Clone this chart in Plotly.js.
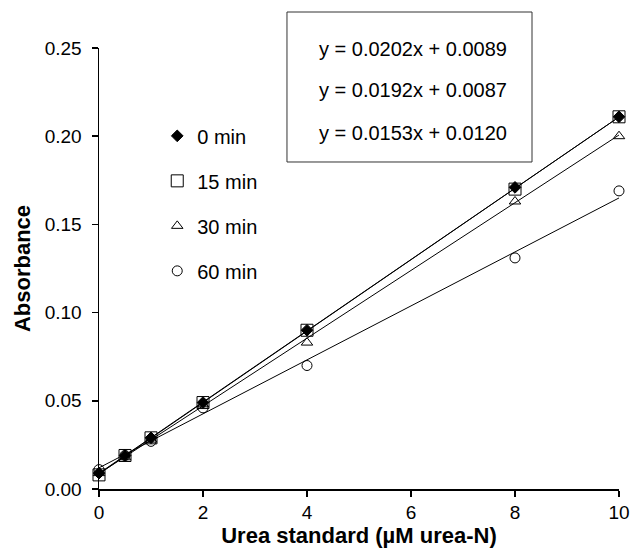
<!DOCTYPE html>
<html>
<head>
<meta charset="utf-8">
<script src="https://cdn.plot.ly/plotly-3.0.1.min.js"></script>
<style>html,body{margin:0;padding:0;background:#fff;}#chart{width:630px;height:549px;}</style>
</head>
<body>
<div id="chart"></div>
<script>
// Data
const xValues = [0, 0.5, 1, 2, 4, 8, 10];
const min0  = [0.009, 0.019, 0.029, 0.049, 0.090, 0.171, 0.211];
const min15 = [0.008, 0.019, 0.029, 0.049, 0.090, 0.170, 0.211];
const min30 = [0.009, 0.018, 0.028, 0.048, 0.083, 0.163, 0.200];
const min60 = [0.011, 0.019, 0.027, 0.046, 0.070, 0.131, 0.169];
const seriesNames = ['0 min', '15 min', '30 min', '60 min'];
const seriesSymbols = ['diamond', 'square-open', 'triangle-up-open', 'circle-open'];
const seriesSizes = [9, 12, 10, 10];
// Trendline equations shown in the chart (slope, intercept)
const eqSlopes = [0.0202, 0.0192, 0.0153];
const eqIntercepts = [0.0089, 0.0087, 0.0120];
const eqTexts = ['y = 0.0202x + 0.0089', 'y = 0.0192x + 0.0087', 'y = 0.0153x + 0.0120'];
const xTickVals = [0, 2, 4, 6, 8, 10];
const yTickVals = [0, 0.05, 0.10, 0.15, 0.20, 0.25];

const allSeries = [min0, min15, min30, min60];
const xEnds = [xValues[0], xValues[xValues.length - 1]];

function fit(xs, ys) {
  const n = xs.length;
  const mx = xs.reduce((a, b) => a + b, 0) / n;
  const my = ys.reduce((a, b) => a + b, 0) / n;
  let sxy = 0, sxx = 0;
  for (let i = 0; i < n; i++) { sxy += (xs[i] - mx) * (ys[i] - my); sxx += (xs[i] - mx) ** 2; }
  const m = sxy / sxx;
  return [m, my - m * mx];
}

const traces = [];
// trendlines: 0 min, 30 min, 60 min from the printed equations; 15 min fitted from its data
const lineParams = [
  [eqSlopes[0], eqIntercepts[0]],
  fit(xValues, min15),
  [eqSlopes[1], eqIntercepts[1]],
  [eqSlopes[2], eqIntercepts[2]]
];
lineParams.forEach(p => {
  traces.push({
    x: xEnds, y: xEnds.map(x => p[0] * x + p[1]),
    mode: 'lines', type: 'scatter', showlegend: false, hoverinfo: 'skip',
    line: {color: '#000', width: 1}, cliponaxis: false
  });
});
// markers: draw 60, 30, 15, then 0 on top
[3, 2, 1, 0].forEach(i => {
  traces.push({
    x: xValues, y: allSeries[i], name: seriesNames[i],
    mode: 'markers', type: 'scatter', cliponaxis: false,
    legendgroup: 'g' + i, legendrank: i + 1,
    marker: {symbol: seriesSymbols[i], size: seriesSizes[i], color: '#000',
             line: {color: '#000', width: 1}}
  });
});

const FONT = 'Liberation Sans, Arial, Helvetica, sans-serif';
const annotations = eqTexts.map((t, i) => ({
  text: t, xref: 'paper', yref: 'paper', x: 0.604, y: [0.998, 0.904, 0.808][i],
  showarrow: false, xanchor: 'center', yanchor: 'middle',
  font: {family: FONT, size: 20, color: '#000'}
}));

const layout = {
  width: 630, height: 549,
  margin: {l: 99, r: 11, t: 48, b: 60},
  paper_bgcolor: '#fff', plot_bgcolor: '#fff',
  font: {family: FONT, color: '#000', size: 19},
  showlegend: true,
  legend: {
    x: 0.112, y: 0.845, xanchor: 'left', yanchor: 'top',
    bgcolor: 'rgba(0,0,0,0)', borderwidth: 0,
    font: {family: FONT, size: 20, color: '#000'},
    traceorder: 'grouped', tracegroupgap: 16, itemwidth: 30
  },
  xaxis: {
    range: [0, 10], tickvals: xTickVals, ticktext: xTickVals.map(String),
    showgrid: false, zeroline: false, showline: true, linecolor: '#000', linewidth: 1.5,
    ticks: 'outside', ticklen: 6, tickwidth: 1.5, tickcolor: '#000',
    tickfont: {family: FONT, size: 19, color: '#000'},
    title: {text: 'Urea standard (µM urea-N)', font: {family: FONT, size: 22, color: '#000', weight: 'bold'}, standoff: 3}
  },
  yaxis: {
    range: [0, 0.25], tickvals: yTickVals, tickformat: '.2f',
    showgrid: false, zeroline: false, showline: true, linecolor: '#000', linewidth: 1.5,
    ticks: 'outside', ticklen: 6, tickwidth: 1.5, tickcolor: '#000', ticklabelstandoff: 6,
    tickfont: {family: FONT, size: 19, color: '#000'},
    title: {text: 'Absorbance', font: {family: FONT, size: 22, color: '#000', weight: 'bold'}, standoff: 8}
  },
  shapes: [{
    type: 'rect', xref: 'paper', yref: 'paper',
    x0: 0.3615, x1: 0.8327, y0: 0.7415, y1: 1.0816,
    line: {color: '#333', width: 1}, fillcolor: 'rgba(0,0,0,0)'
  }],
  annotations: annotations
};

Plotly.newPlot('chart', traces, layout, {displayModeBar: false, staticPlot: true});
</script>
</body>
</html>
